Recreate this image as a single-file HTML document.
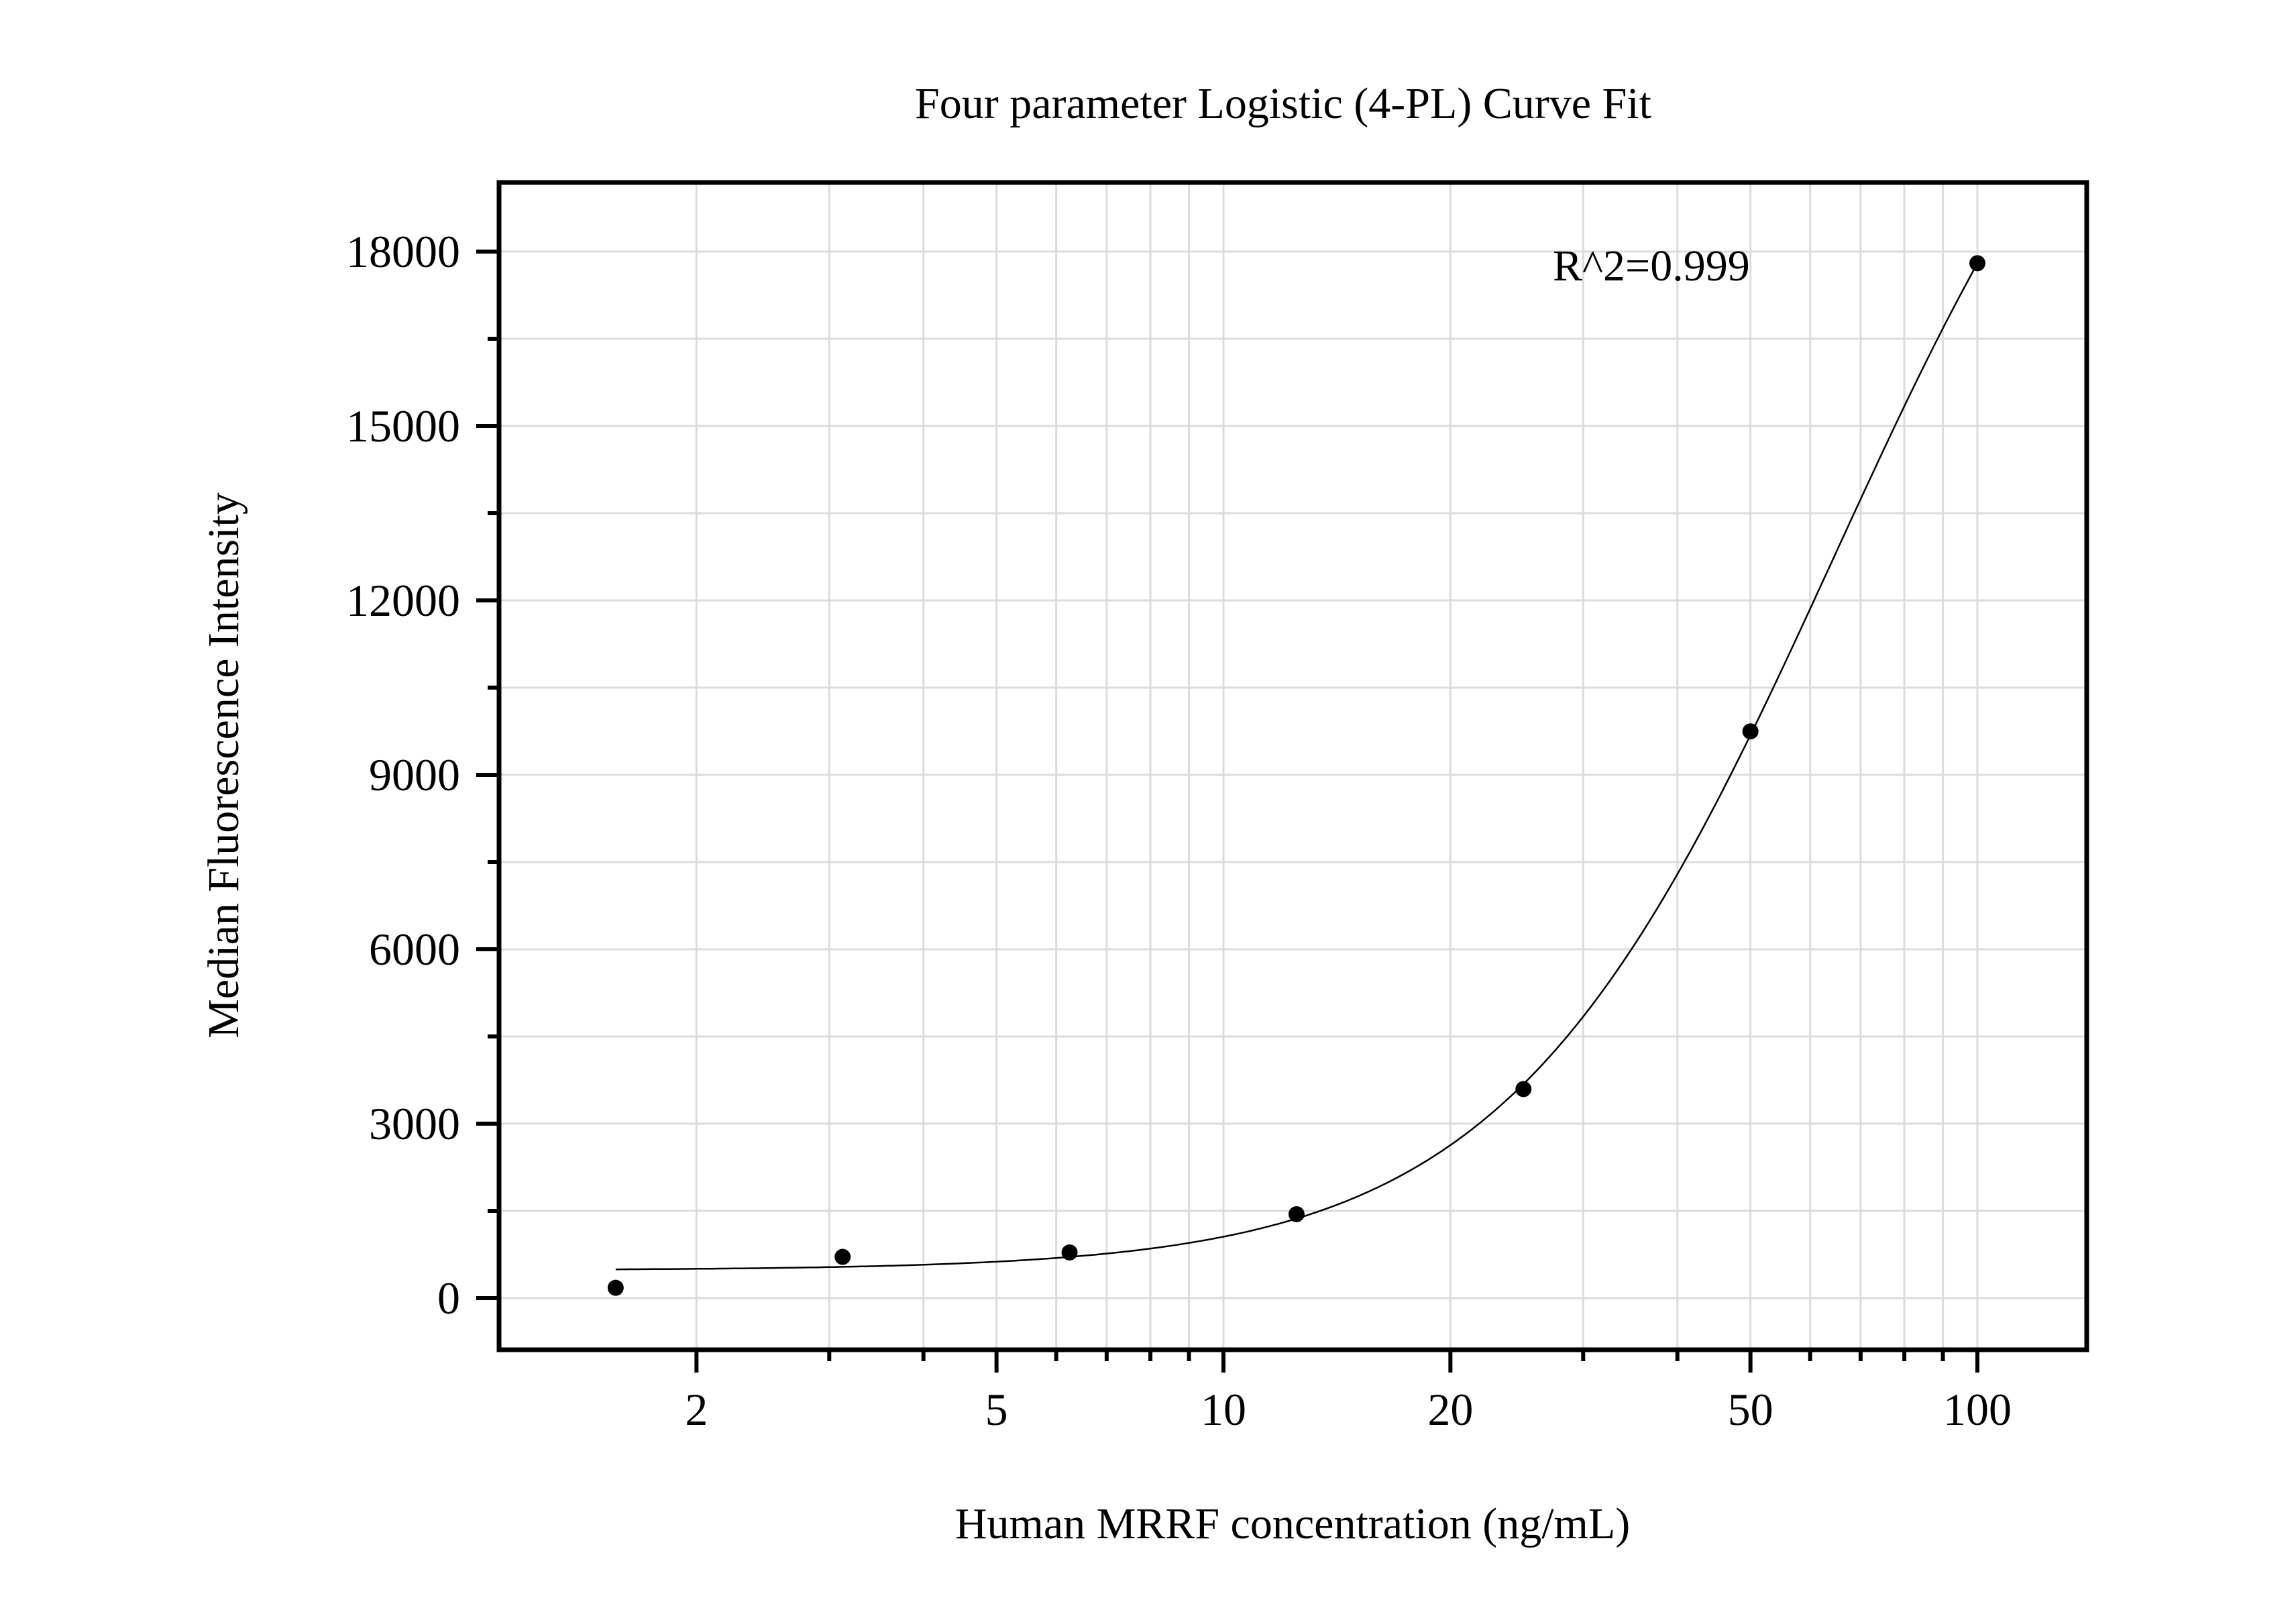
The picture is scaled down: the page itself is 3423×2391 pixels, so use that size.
<!DOCTYPE html>
<html><head><meta charset="utf-8"><style>
html,body{margin:0;padding:0;background:#fff;}
svg{display:block;font-family:"Liberation Serif",serif;}
</style></head><body>
<svg id="chart" width="3423" height="2391" viewBox="0 0 3423 2391" xmlns="http://www.w3.org/2000/svg">
<rect x="0" y="0" width="3423" height="2391" fill="#fff"/>
<g id="grid"></g>
<g id="curve"></g>
<g id="points"></g>
<g id="axes"></g>
<text x="1913" y="176" font-size="66" text-anchor="middle">Four parameter Logistic (4-PL) Curve Fit</text>
<text x="2315" y="418" font-size="66">R^2=0.999</text>
<text x="1927" y="2293" font-size="66" text-anchor="middle">Human MRRF concentration (ng/mL)</text>
<text x="0" y="0" font-size="66" text-anchor="middle" transform="translate(355,1141) rotate(-90)">Median Fluorescence Intensity</text>
</svg>
<script>
const concentrations = [1.5625, 3.125, 6.25, 12.5, 25, 50, 100];
const intensities = [177, 709, 785, 1443, 3595, 9747, 17800];
const fitParams = [480, 25000, 64.5, 2.0]; // A (bottom), D (top), C (EC50), B (slope)
const yTicks = [0, 3000, 6000, 9000, 12000, 15000, 18000];
const yTickLabels = ["0", "3000", "6000", "9000", "12000", "15000", "18000"];
const xTicks = [2, 5, 10, 20, 50, 100];
const xTickLabels = ["2", "5", "10", "20", "50", "100"];

const NS = "http://www.w3.org/2000/svg";
const L = 744, R = 3111, T = 272, B = 2012;
const xOf = v => 2948 + (Math.log10(v) - 2) * 1124;
const yOf = v => 1935 - v * (1560 / 18000);
function mk(tag, attrs, parent) {
  const e = document.createElementNS(NS, tag);
  for (const k in attrs) e.setAttribute(k, attrs[k]);
  parent.appendChild(e);
  return e;
}
const grid = document.getElementById('grid');
const axes = document.getElementById('axes');
for (let dec = 1; dec <= 100; dec *= 10) {
  for (let m = 1; m <= 9; m++) {
    const v = dec * m;
    if (v > 100) break;
    const x = xOf(v);
    if (x < L || x > R) continue;
    const g = mk('line', {x1: x, x2: x, y1: T, y2: B, stroke: '#dcdcdc', 'stroke-width': 3}, grid);
    
    
    const major = xTicks.includes(v);
    const t = mk('line', {x1: x, x2: x, y1: B, y2: B + (major ? 34 : 17), stroke: '#000', 'stroke-width': 6}, axes);
    
    
  }
}
for (let v = -1500; v <= 19500; v += 1500) {
  const y = yOf(v);
  if (y < T || y > B) continue;
  const g = mk('line', {x1: L, x2: R, y1: y, y2: y, stroke: '#dcdcdc', 'stroke-width': 3}, grid);
  
  
  const major = v % 3000 === 0;
  const t = mk('line', {x1: L - (major ? 34 : 17), x2: L, y1: y, y2: y, stroke: '#000', 'stroke-width': 6}, axes);
  
  
}
yTicks.forEach((v, i) => {
  const t = mk('text', {x: 686, y: yOf(v) + 23, 'font-size': 68, 'text-anchor': 'end'}, axes);
  t.textContent = yTickLabels[i];
  
  
});
xTicks.forEach((v, i) => {
  const t = mk('text', {x: xOf(v), y: 2124, 'font-size': 68, 'text-anchor': 'middle'}, axes);
  t.textContent = xTickLabels[i];
  
  
});
const frame = mk('rect', {x: L, y: T, width: R - L, height: B - T, fill: 'none', stroke: '#000', 'stroke-width': 7}, axes);


const [A, D, C, Bs] = fitParams;
const f = x => D + (A - D) / (1 + Math.pow(x / C, Bs));
let d = '';
const lo = Math.log10(concentrations[0]), hi = Math.log10(concentrations[concentrations.length - 1]);
for (let i = 0; i <= 300; i++) {
  const x = Math.pow(10, lo + (hi - lo) * i / 300);
  d += (i ? 'L' : 'M') + xOf(x).toFixed(1) + ' ' + yOf(f(x)).toFixed(1);
}
const cp = mk('path', {d: d, fill: 'none', stroke: '#000', 'stroke-width': 2.5}, document.getElementById('curve'));


const pts = document.getElementById('points');
concentrations.forEach((c, i) => {
  const p = mk('circle', {cx: xOf(c), cy: yOf(intensities[i]), r: 12, fill: '#000'}, pts);
  
  
});
</script>
</body></html>
